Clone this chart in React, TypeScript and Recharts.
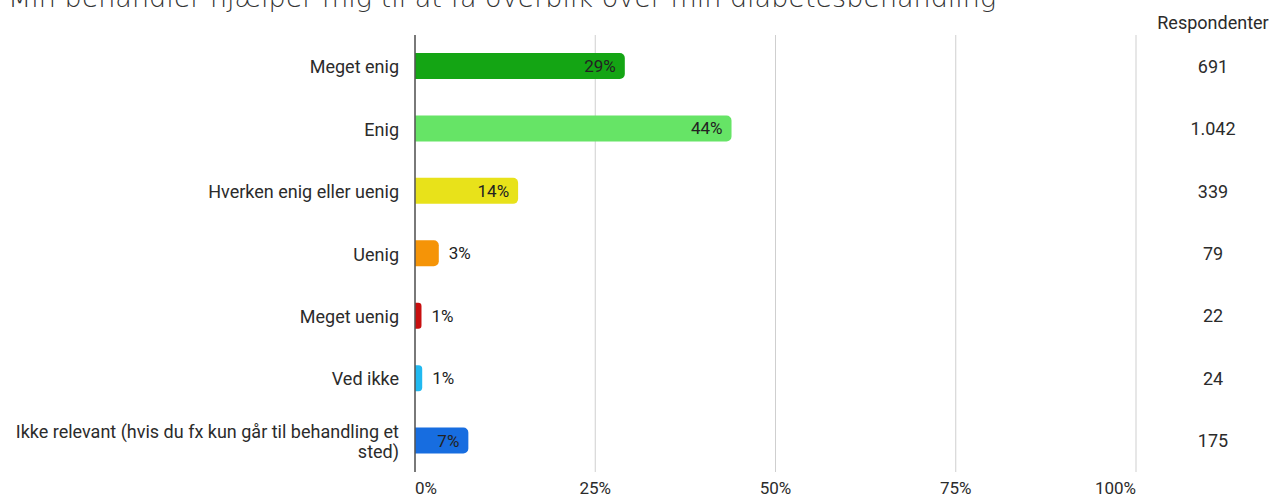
import React from "react";
import { Bar, BarChart, CartesianGrid, Cell, LabelList, XAxis, YAxis } from "recharts";

const categories = [
  "Meget enig",
  "Enig",
  "Hverken enig eller uenig",
  "Uenig",
  "Meget uenig",
  "Ved ikke",
  "Ikke relevant (hvis du fx kun går til behandling et sted)",
];
const shares = [29.1, 43.9, 14.3, 3.3, 0.9, 1.0, 7.4];
const respondents = ["691", "1.042", "339", "79", "22", "24", "175"];
const colors = ["#14a514", "#66e466", "#e8e21a", "#f59407", "#c80f0f", "#21b9f0", "#176de0"];
const xTicks = [0, 25, 50, 75, 100];

const data = categories.map((name, i) => ({
  name,
  share: shares[i],
  respondents: respondents[i],
}));

const FONT = "Roboto, 'Noto Sans', sans-serif";

function wrapLabel(text: string, max: number): string[] {
  const words = text.split(" ");
  const lines: string[] = [];
  let cur = "";
  for (const w of words) {
    const next = cur ? `${cur} ${w}` : w;
    if (next.length > max && cur) {
      lines.push(cur);
      cur = w;
    } else {
      cur = next;
    }
  }
  if (cur) lines.push(cur);
  return lines;
}

function CategoryTick(props: any) {
  const { x, y, payload, index } = props;
  const lines = wrapLabel(payload.value, 52);
  const lh = 20;
  const startY = y - ((lines.length - 1) * lh) / 2;
  return (
    <g>
      <text x={x} y={startY} textAnchor="end" dominantBaseline="central" fill="#2b2b2b" fontSize={18} fontFamily={FONT}>
        {lines.map((l, i) => (
          <tspan key={i} x={x} y={startY + i * lh}>
            {l}
          </tspan>
        ))}
      </text>
      <text x={1213} y={y} textAnchor="middle" dominantBaseline="central" fill="#2b2b2b" fontSize={18} fontFamily={FONT}>
        {data[index]?.respondents}
      </text>
    </g>
  );
}

function PercentTick(props: any) {
  const { x, y, payload, index } = props;
  const anchor = index === 0 ? "start" : index === xTicks.length - 1 ? "end" : "middle";
  return (
    <text x={x} y={y} textAnchor={anchor} dominantBaseline="central" fill="#2b2b2b" fontSize={17} fontFamily={FONT}>
      {`${payload.value}%`}
    </text>
  );
}

function ShareLabel(props: any) {
  const { x, y, width, height, value } = props;
  const text = `${Math.round(value)}%`;
  const inside = width > 40;
  return (
    <text
      x={inside ? x + width - 9 : x + width + 10}
      y={y + height / 2}
      textAnchor={inside ? "end" : "start"}
      dominantBaseline="central"
      fill="#222"
      fontSize={17}
      fontFamily={FONT}
    >
      {text}
    </text>
  );
}

export default function App() {
  return (
    <div style={{ position: "absolute", left: 0, top: 0, width: 1271, height: 499, background: "#fff" }}>
      <svg width={1271} height={40} style={{ position: "absolute", left: 0, top: 0, zIndex: 1 }}>
        <text x={8} y={7} fill="#333" fontSize={27} fontWeight={200} fontFamily="'DejaVu Sans', sans-serif">
          Min behandler hjælper mig til at få overblik over min diabetesbehandling
        </text>
        <text x={1213} y={22} textAnchor="middle" dominantBaseline="central" fill="#2b2b2b" fontSize={18} fontFamily={FONT}>
          Respondenter
        </text>
      </svg>
      <BarChart
        width={1271}
        height={499}
        data={data}
        layout="vertical"
        margin={{ top: 35, right: 135, left: 0, bottom: 0 }}
        barCategoryGap={18}
      >
        <CartesianGrid horizontal={false} stroke="#cfcfcf" />
        <XAxis
          type="number"
          domain={[0, 100]}
          ticks={xTicks}
          height={27}
          axisLine={false}
          tickLine={false}
          tickSize={0}
          tickMargin={16}
          tick={<PercentTick />}
        />
        <YAxis
          type="category"
          dataKey="name"
          width={415}
          axisLine={{ stroke: "#555", strokeWidth: 1.5 }}
          tickLine={false}
          tickSize={0}
          tickMargin={16}
          interval={0}
          tick={<CategoryTick />}
        />
        <Bar dataKey="share" radius={[0, 5, 5, 0]} isAnimationActive={false}>
          {data.map((d, i) => (
            <Cell key={d.name} fill={colors[i]} />
          ))}
          <LabelList dataKey="share" content={<ShareLabel />} />
        </Bar>
      </BarChart>
    </div>
  );
}
